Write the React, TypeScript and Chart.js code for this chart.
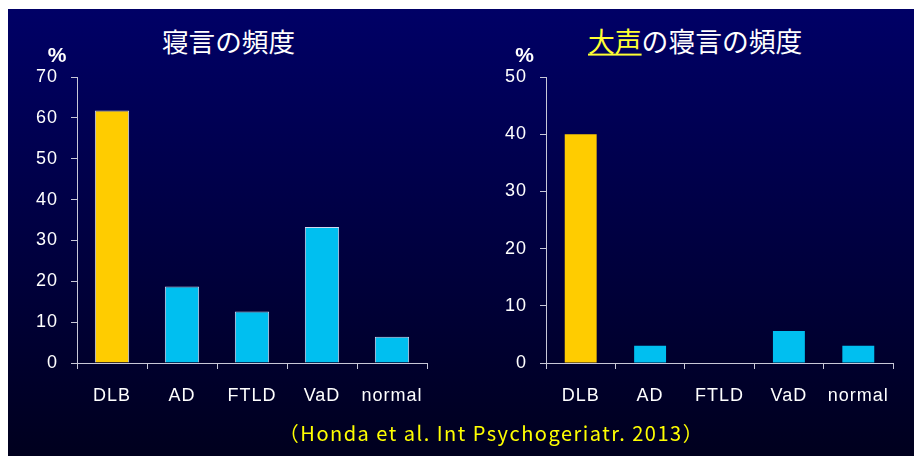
import React, { useEffect, useRef } from "react";
import { Chart, registerables } from "chart.js";

Chart.register(...registerables);

const categories = ["DLB", "AD", "FTLD", "VaD", "normal"];
const sleepTalkFreq = [61.8, 18.7, 12.6, 33.3, 6.4];
const loudSleepTalkFreq = [40, 3.0, 0, 5.6, 3.0];
const leftTicks = [0, 10, 20, 30, 40, 50, 60, 70];
const rightTicks = [0, 10, 20, 30, 40, 50];
const barColors = ["#ffcc00", "#00bff0", "#00bff0", "#00bff0", "#00bff0"];

const AXIS = "#c8c8d8";
const FONT = "'Liberation Sans', Arial, sans-serif";
const JP = "'Noto Sans CJK JP', sans-serif";

const spacingPlugin = {
  id: "spacing",
  beforeDraw: (chart: any) => {
    try {
      (chart.ctx as any).letterSpacing = "1px";
    } catch (e) {}
  },
};

function makeChart(
  canvas: HTMLCanvasElement,
  values: number[],
  max: number,
  step: number,
  yWidth: number,
  padRight: number,
  barPct: number,
  border: string,
  borderW: number
) {
  return new Chart(canvas, {
    type: "bar",
    plugins: [spacingPlugin],
    data: {
      labels: categories,
      datasets: [
        {
          data: values,
          backgroundColor: barColors,
          borderColor: border,
          borderWidth: borderW,
          barPercentage: barPct,
          categoryPercentage: 1,
        },
      ],
    },
    options: {
      animation: false,
      responsive: false,
      maintainAspectRatio: false,
      layout: { padding: { top: 17, right: padRight, left: 0, bottom: 0 } },
      plugins: { legend: { display: false }, tooltip: { enabled: false } },
      scales: {
        x: {
          grid: { drawOnChartArea: false, drawTicks: true, tickLength: 6, color: AXIS, offset: true },
          border: { color: AXIS, width: 1 },
          ticks: { color: "#ffffff", font: { family: FONT, size: 18 }, padding: 16, maxRotation: 0 },
          afterFit: (s: any) => {
            s.height = 57;
            s.paddingLeft = 0;
            s.paddingRight = 0;
          },
        },
        y: {
          min: 0,
          max: max,
          grid: { drawOnChartArea: false, drawTicks: true, tickLength: 6, color: AXIS },
          border: { color: AXIS, width: 1 },
          ticks: { stepSize: step, color: "#ffffff", font: { family: FONT, size: 18 }, padding: 13 },
          afterFit: (s: any) => {
            s.width = yWidth;
            s.paddingTop = 0;
            s.paddingBottom = 0;
          },
        },
      },
    },
  });
}

export default function App() {
  const leftRef = useRef<HTMLCanvasElement>(null);
  const rightRef = useRef<HTMLCanvasElement>(null);

  useEffect(() => {
    const a = makeChart(leftRef.current!, sleepTalkFreq, leftTicks[leftTicks.length - 1], leftTicks[1] - leftTicks[0], 69, 33, 0.49, "#d0d8f0", 1);
    const b = makeChart(rightRef.current!, loudSleepTalkFreq, rightTicks[rightTicks.length - 1], rightTicks[1] - rightTicks[0], 76, 21, 0.46, "rgba(0,0,0,0)", 0);
    return () => {
      a.destroy();
      b.destroy();
    };
  }, []);

  const abs = (x: number, y: number): React.CSSProperties => ({
    position: "absolute",
    left: x,
    top: y,
    whiteSpace: "nowrap",
    lineHeight: 1,
  });

  return (
    <div
      style={{
        position: "relative",
        width: 914,
        height: 447,
        marginTop: 1,
        background: "linear-gradient(#000066, #00001e)",
        overflow: "hidden",
      }}
    >
      <canvas ref={leftRef} width={452} height={360} style={{ position: "absolute", left: 0, top: 51, width: 452, height: 360 }} />
      <canvas ref={rightRef} width={444} height={360} style={{ position: "absolute", left: 462, top: 51, width: 444, height: 360 }} />
      <div style={{ ...abs(220.5, 31.5), transform: "translate(-50%,-50%)", color: "#ffffff", fontFamily: JP, fontSize: 26.6 }}>
        寝言の頻度
      </div>
      <div style={{ ...abs(580, 31.5), transform: "translateY(-50%)", color: "#ffffff", fontFamily: JP, fontSize: 26.8 }}>
        <span style={{ color: "#ffff33", textDecoration: "underline", textDecorationColor: "#ffff33" }}>大声</span>
        の寝言の頻度
      </div>
      <div style={{ ...abs(49, 45), transform: "translate(-50%,-50%)", color: "#ffffff", fontFamily: FONT, fontSize: 21, fontWeight: "bold" }}>%</div>
      <div style={{ ...abs(516.5, 45), transform: "translate(-50%,-50%)", color: "#ffffff", fontFamily: FONT, fontSize: 21, fontWeight: "bold" }}>%</div>
      <div style={{ ...abs(483.5, 424), transform: "translate(-50%,-50%)", color: "#ffff00", fontFamily: JP, fontSize: 20, letterSpacing: 1.5 }}>
        （Honda et al. Int Psychogeriatr. 2013）
      </div>
    </div>
  );
}
